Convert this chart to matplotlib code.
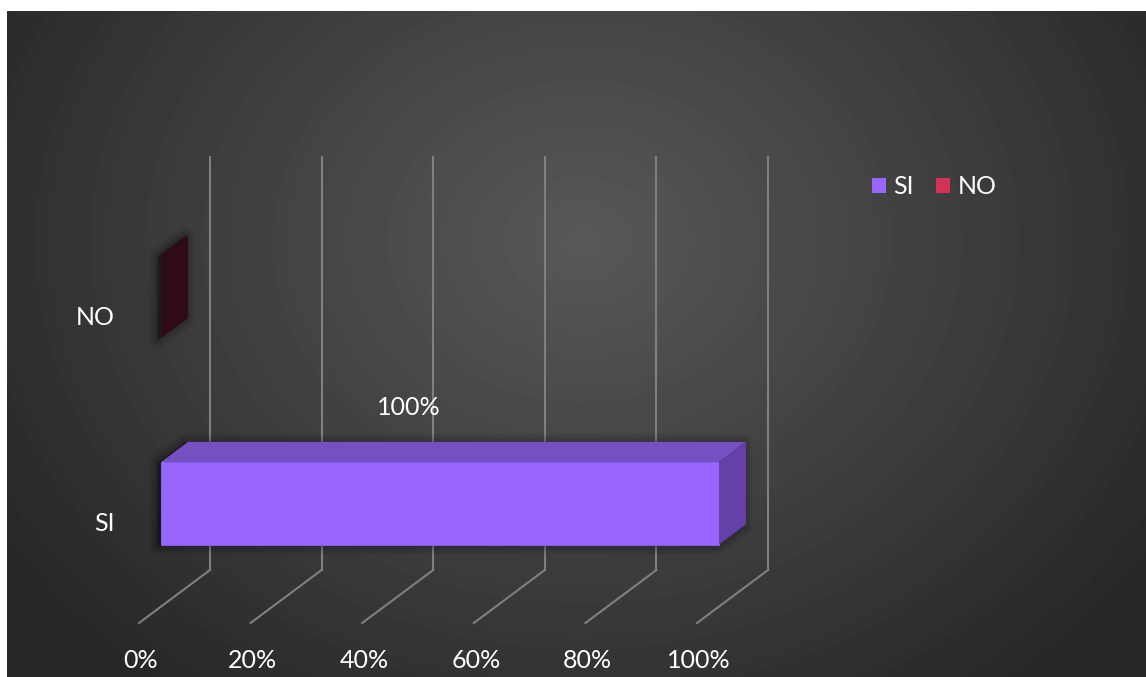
import numpy as np
import matplotlib
matplotlib.use("Agg")
import matplotlib.pyplot as plt
from matplotlib.patches import Polygon, Patch
from matplotlib.transforms import offset_copy

plt.rcParams['font.family'] = ['Lato', 'DejaVu Sans']

# data
categories = ['SI', 'NO']
values = [100, 0]          # percent
series_colors = ['#9966FF', '#D13255']
ticks = [0, 20, 40, 60, 80, 100]
value_labels = ['100%', None]

W, H = 1146, 677
FS = 18
fig = plt.figure(figsize=(W / 100, H / 100), dpi=100)
fig.patch.set_facecolor('white')

# background: dark radial gradient (chart area, white strip on top / left)
bg = fig.add_axes([7 / W, 0, (W - 7) / W, (H - 11) / H])
yy, xx = np.mgrid[0:H - 11, 0:W - 7]
d = np.sqrt(((xx - 575) / 700.0) ** 2 + ((yy - 230) / 580.0) ** 2)
v = 38 + (88 - 38) * np.clip(1 - d, 0, 1) ** 0.95
bg.imshow(v, cmap='gray', vmin=0, vmax=255, aspect='auto', interpolation='bilinear')
bg.axis('off')

# main axes = back wall of the 3d box
wall_l, wall_r, wall_t, wall_b = 210, 768, 157, 570
ax = fig.add_axes([wall_l / W, (H - wall_b) / H, (wall_r - wall_l) / W, (wall_b - wall_t) / H])
ax.set_xlim(0, 100)
ax.set_ylim(0, 2)
ax.axis('off')
ax.patch.set_alpha(0)

# depth projection (z=0 back wall, z=1 front of floor)
DX = -71 / ((wall_r - wall_l) / 100)
DY = -53 / ((wall_b - wall_t) / 2)


def proj(x, y, z):
    return (x + z * DX, y + z * DY)


grid_col = '#808080'
for t in ticks:
    ax.plot([t, t], [0, 2], color=grid_col, lw=1.5, clip_on=False, zorder=1)
    p0, p1 = proj(t, 0, 0), proj(t, 0, 1)
    ax.plot([p0[0], p1[0]], [p0[1], p1[1]], color=grid_col, lw=1.5, clip_on=False, zorder=1)
    ax.annotate(f'{t}%', xy=p1, xytext=(2 * 0.72, -37 * 0.72), textcoords='offset points',
                ha='center', va='center', color='white', fontsize=FS, annotation_clip=False)

z0, z1 = 0.31, 0.69
half = 0.2
shadow_tr = offset_copy(ax.transData, fig=fig, x=-3, y=-1, units='dots')
for i, (cat, val, col) in enumerate(zip(categories, values, series_colors)):
    y0, y1 = i + 0.5 - half, i + 0.5 + half
    sil = [proj(0, y0, z1), proj(val, y0, z1), proj(val, y0, z0), proj(val, y1, z0),
           proj(0, y1, z0), proj(0, y1, z1)]
    for lw, a in [(14, 0.05), (10, 0.07), (6, 0.1), (2, 0.14)]:
        ax.add_patch(Polygon(sil, closed=True, facecolor='black', edgecolor='black',
                             lw=lw, alpha=a, transform=shadow_tr, clip_on=False, zorder=2,
                             joinstyle='round'))
    left = [proj(0, y0, z0), proj(0, y0, z1), proj(0, y1, z1), proj(0, y1, z0)]
    front = [proj(0, y0, z1), proj(val, y0, z1), proj(val, y1, z1), proj(0, y1, z1)]
    top = [proj(0, y1, z1), proj(val, y1, z1), proj(val, y1, z0), proj(0, y1, z0)]
    right = [proj(val, y0, z1), proj(val, y0, z0), proj(val, y1, z0), proj(val, y1, z1)]
    if val == 0:
        ax.add_patch(Polygon(left, closed=True, facecolor='#2E0B17', edgecolor='none',
                             clip_on=False, zorder=3))
    else:
        ax.add_patch(Polygon(front, closed=True, facecolor=col, edgecolor='#8A5AEE',
                             lw=0.8, clip_on=False, zorder=3))
        ax.add_patch(Polygon(top, closed=True, facecolor='#7550C0', edgecolor='none',
                             clip_on=False, zorder=3))
        ax.add_patch(Polygon(right, closed=True, facecolor='#6440A8', edgecolor='none',
                             clip_on=False, zorder=3))
    ax.annotate(cat, xy=proj(0, i + 0.5, 1), xytext=(-24 * 0.72, -4 * 0.72),
                textcoords='offset points', ha='right', va='center', color='white',
                fontsize=FS, annotation_clip=False)
    if value_labels[i]:
        ax.annotate(value_labels[i], xy=proj(val / 2, y1, z1), xytext=(-31 * 0.72, 55 * 0.72),
                    textcoords='offset points', ha='center', va='center', color='white',
                    fontsize=FS, annotation_clip=False)

handles = [Patch(facecolor=c, edgecolor='none', label=l) for c, l in zip(series_colors, categories)]
fig.legend(handles=handles, loc='center left', bbox_to_anchor=(872 / W, 1 - 187 / H),
           ncol=2, frameon=False, fontsize=FS, labelcolor='white', handlelength=0.55,
           handleheight=0.55, handletextpad=0.3, columnspacing=0.9, borderpad=0,
           borderaxespad=0)

fig.savefig('out.png', dpi=100, facecolor=fig.get_facecolor())
